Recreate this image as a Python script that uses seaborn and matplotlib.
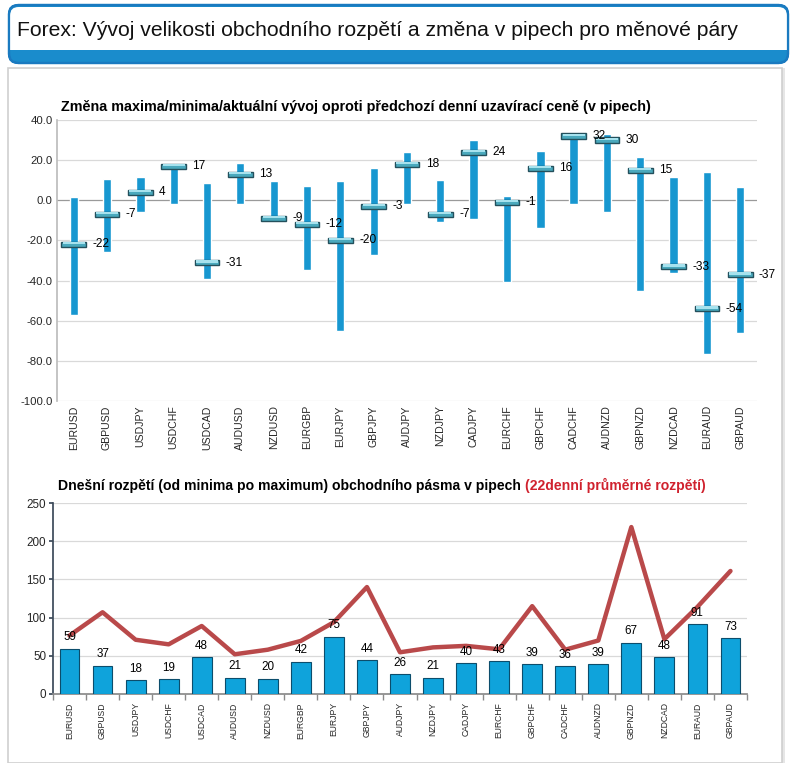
import numpy as np
import pandas as pd
import seaborn as sns
import matplotlib.pyplot as plt
from matplotlib.patches import FancyBboxPatch, Rectangle

pairs = ['EURUSD', 'GBPUSD', 'USDJPY', 'USDCHF', 'USDCAD', 'AUDUSD', 'NZDUSD',
         'EURGBP', 'EURJPY', 'GBPJPY', 'AUDJPY', 'NZDJPY', 'CADJPY', 'EURCHF',
         'GBPCHF', 'CADCHF', 'AUDNZD', 'GBPNZD', 'NZDCAD', 'EURAUD', 'GBPAUD']
high = [1.7, 10.8, 11.7, 18, 8.7, 18.8, 9.8, 7.2, 9.8, 16,
        24.2, 10.3, 29.8, 2.2, 24.8, 33.8, 32.8, 21.7, 11.8, 14.3, 6.8]
low = [-57, -26, -6, -2, -39, -2, -9, -34.7, -65, -27.5,
       -2, -10.7, -9.5, -40.7, -14, -2, -6, -45, -36, -76.7, -66]
current = [-22, -7, 4, 17, -31, 13, -9, -12, -20, -3,
           18, -7, 24, -1, 16, 32, 30, 15, -33, -54, -37]
today_range = [59, 37, 18, 19, 48, 21, 20, 42, 75, 44,
               26, 21, 40, 43, 39, 36, 39, 67, 48, 91, 73]
avg22 = [76.5, 107, 71, 65, 89, 52, 58, 69.5, 94, 140,
         54.6, 61, 63, 58.5, 115, 58, 70, 218.5, 71.7, 114, 161]

sns.set_theme(style="white")
plt.rcParams['font.family'] = ['Liberation Sans', 'DejaVu Sans']

W, H = 797, 763
fig = plt.figure(figsize=(W / 100, H / 100), dpi=100)
fig.patch.set_facecolor('white')


def fx(px):
    return px / W


def fy(py):
    return 1 - py / H


# outer panel with soft shadow
fig.patches.append(Rectangle((fx(11), fy(763)), fx(774), 695 / H, transform=fig.transFigure,
                             facecolor='#e6e6e6', edgecolor='none', zorder=0))
fig.patches.append(Rectangle((fx(8), fy(763)), fx(774), 695 / H, transform=fig.transFigure,
                             facecolor='white', edgecolor='#cfcfcf', lw=1.2, zorder=0.1))

# title box
fig.patches.append(FancyBboxPatch((fx(9), fy(63)), fx(779), 58 / H, transform=fig.transFigure,
                                  boxstyle='round,pad=0,rounding_size=0.012',
                                  facecolor='#1a8ccc', edgecolor='#1a7ac0', lw=1.6, zorder=1))
fig.patches.append(FancyBboxPatch((fx(10), fy(50)), fx(777), 43 / H, transform=fig.transFigure,
                                  boxstyle='round,pad=0,rounding_size=0.011',
                                  facecolor='white', edgecolor='none', zorder=1.1))
fig.patches.append(Rectangle((fx(10), fy(50)), fx(777), 20 / H, transform=fig.transFigure,
                             facecolor='white', edgecolor='none', zorder=1.1))
fig.patches.append(FancyBboxPatch((fx(9), fy(63)), fx(779), 58 / H, transform=fig.transFigure,
                                  boxstyle='round,pad=0,rounding_size=0.012',
                                  facecolor='none', edgecolor='#1a7ac0', lw=1.6, zorder=1.2))
fig.text(fx(17), fy(30), 'Forex: Vývoj velikosti obchodního rozpětí a změna v pipech pro měnové páry',
         fontsize=15.2, color='#111111', va='center', ha='left', zorder=2)

x = np.arange(len(pairs))

# ---- top chart: max/min/current change
ax1 = fig.add_axes([fx(57), fy(401), fx(700), 281 / H], zorder=3)
ax1.set_facecolor('none')
lo = np.array(low)
hi = np.array(high)
cur = np.array(current)
ax1.bar(x, hi - lo, bottom=lo, width=0.25, color='#1797d0', zorder=3)
# current value caps: darker body with a light top half
ax1.bar(x, 2.6, bottom=cur - 1.3, width=0.74, color='#4aa9bd', edgecolor='#24505c',
        linewidth=1.0, zorder=4)
ax1.bar(x, 1.1, bottom=cur, width=0.66, color='#a6e2ee', edgecolor='none', zorder=4.5)
for i, v in enumerate(current):
    ax1.text(i + 0.56, v, f'{v}', va='center', ha='left', fontsize=8.6, color='black', zorder=5)
ax1.set_ylim(-100, 40)
ax1.set_xlim(-0.5, len(pairs) - 0.5)
ax1.set_yticks(np.arange(-100, 41, 20))
ax1.set_yticklabels([f'{t:.1f}' for t in np.arange(-100, 41, 20)], fontsize=8.2)
ax1.set_xticks(x)
ax1.set_xticklabels(pairs, rotation=90, fontsize=7.6)
ax1.tick_params(axis='both', length=0, pad=3)
for t in np.arange(-100, 41, 20):
    ax1.axhline(t, color='#9a9a9a' if t == 0 else '#d9d9d9', lw=0.9, zorder=1)
for s in ['top', 'right', 'bottom']:
    ax1.spines[s].set_visible(False)
ax1.spines['left'].set_color('#bdbdbd')
fig.text(fx(61), fy(107), 'Změna maxima/minima/aktuální vývoj oproti předchozí denní uzavírací ceně (v pipech)',
         fontsize=10.4, fontweight='bold', color='black', va='center', ha='left', zorder=4)

# ---- bottom chart: today's range and 22-day average
ax2 = fig.add_axes([fx(53), fy(694), fx(694), 191 / H], zorder=3)
ax2.set_facecolor('none')
df = pd.DataFrame({'pair': pairs, 'range': today_range})
sns.barplot(data=df, x='pair', y='range', ax=ax2, color='#0fa3db', width=0.6,
            edgecolor='#0c4d6c', linewidth=0.8, saturation=1, zorder=3)
ax2.bar_label(ax2.containers[0], labels=[str(v) for v in today_range], padding=4,
              fontsize=8.4, color='black', zorder=5)
sns.lineplot(x=x, y=avg22, ax=ax2, color='#b9494a', lw=3.2, zorder=4)
ax2.set_ylim(0, 250)
ax2.set_xlim(-0.5, len(pairs) - 0.5)
ax2.set_yticks(np.arange(0, 251, 50))
ax2.tick_params(axis='y', labelsize=8.4, length=3, left=True, color='#3c4a5a', pad=2)
ax2.set_xticks(x)
ax2.set_xticklabels(pairs, rotation=90, fontsize=6.2)
ax2.tick_params(axis='x', length=0, pad=6)
ax2.set_xticks(np.arange(-0.5, len(pairs), 1), minor=True)
ax2.tick_params(axis='x', which='minor', length=4, bottom=True, color='#8a8a8a')
ax2.set_xlabel('')
ax2.set_ylabel('')
for t in np.arange(50, 251, 50):
    ax2.axhline(t, color='#d9d9d9', lw=0.9, zorder=1)
for s in ['top', 'right']:
    ax2.spines[s].set_visible(False)
ax2.spines['left'].set_color('#3c4a5a')
ax2.spines['bottom'].set_color('#8a8a8a')
t1 = fig.text(fx(58), fy(490), 'Dnešní rozpětí (od minima po maximum) obchodního pásma v pipech ',
              fontsize=10.1, fontweight='bold', color='black', va='baseline', ha='left', zorder=4)
fig.canvas.draw()
bb = t1.get_window_extent()
fig.text(bb.x1 / fig.bbox.width, fy(490), '(22denní průměrné rozpětí)', fontsize=10.1,
         fontweight='bold', color='#d0222e', va='baseline', ha='left', zorder=4)

fig.savefig('out.png', dpi=100)
